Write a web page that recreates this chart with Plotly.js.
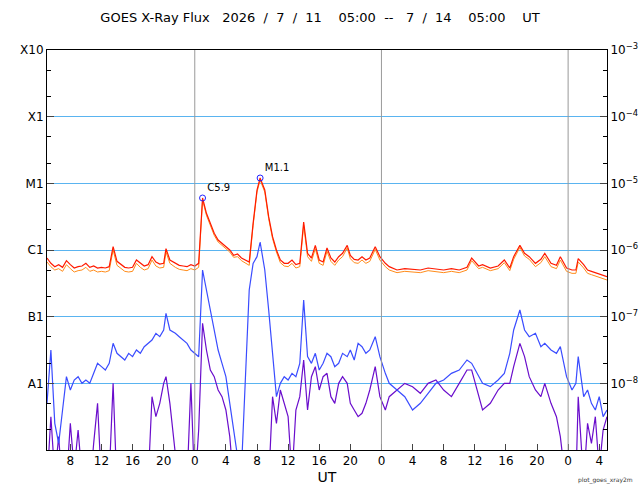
<!DOCTYPE html>
<html>
<head>
<meta charset="utf-8">
<script src="https://cdn.plot.ly/plotly-3.0.1.min.js"></script>
<style>body{margin:0;background:#fff}#chart{width:640px;height:500px}</style>
</head>
<body>
<div id="chart"></div>
<script>
// hours since 2026-07-11 05:00 UT, log10 flux (W/m2)
let hours = [0,0.5,1,1.5,2,2.5,3,3.5,4,4.5,5,5.5,6,6.5,7,7.5,8,8.5,9,9.5,10,10.5,11,11.5,12,12.5,13,13.5,14,14.5,15,15.3,15.8,16.5,17,17.5,18,18.5,19,19.5,20,20.5,21,21.5,22,22.5,23,23.5,24,24.5,25,25.5,26,26.5,27,27.4,28,28.5,29,29.5,30,30.5,31,31.5,32,32.5,33,33.5,34,34.5,35,35.5,36,36.5,37,37.5,38,38.6,39,39.5,40,40.5,41,41.5,42.2,42.8,43.5,44,45,46,47,48,49,50,51,52,53,54,54.6,55.5,56,57,58,58.8,59.5,60,60.8,61.4,62,62.8,63.5,64,64.8,65.5,66,66.8,67.5,68,68.3,69,69.5,70,70.5,71,71.5,72];
let xrsLong = [-6.12,-6.2,-6.25,-6.22,-6.26,-6.16,-6.22,-6.27,-6.25,-6.24,-6.2,-6.26,-6.24,-6.27,-6.26,-6.27,-6.25,-5.95,-6.17,-6.22,-6.26,-6.27,-6.26,-6.15,-6.2,-6.24,-6.22,-6.1,-6.18,-6.21,-6.2,-5.98,-6.15,-6.2,-6.23,-6.24,-6.25,-6.22,-6.24,-6.2,-5.22,-5.45,-5.6,-5.75,-5.85,-5.9,-5.96,-6.0,-6.08,-6.06,-6.12,-6.15,-6.18,-5.6,-5.1,-4.92,-5.1,-5.5,-5.8,-6.0,-6.15,-6.2,-6.2,-6.15,-6.22,-6.2,-5.58,-6.05,-6.12,-5.93,-6.15,-6.18,-5.97,-6.12,-6.18,-6.1,-6.05,-5.93,-6.08,-6.14,-6.15,-6.1,-6.15,-6.12,-5.95,-6.1,-6.2,-6.25,-6.3,-6.28,-6.29,-6.3,-6.27,-6.29,-6.3,-6.28,-6.3,-6.26,-6.12,-6.24,-6.22,-6.27,-6.24,-6.15,-6.27,-6.1,-5.93,-6.05,-6.1,-6.2,-6.14,-6.05,-6.2,-6.23,-6.1,-6.27,-6.3,-6.3,-6.13,-6.22,-6.3,-6.32,-6.34,-6.36,-6.38,-6.4];
let xrsLongB = [-6.18,-6.25,-6.3,-6.28,-6.32,-6.22,-6.28,-6.33,-6.31,-6.3,-6.26,-6.32,-6.3,-6.33,-6.32,-6.33,-6.31,-6.0,-6.23,-6.28,-6.32,-6.33,-6.32,-6.2,-6.26,-6.3,-6.28,-6.15,-6.24,-6.27,-6.26,-6.03,-6.2,-6.26,-6.29,-6.3,-6.31,-6.28,-6.3,-6.26,-5.25,-5.48,-5.63,-5.78,-5.88,-5.93,-5.99,-6.03,-6.11,-6.1,-6.16,-6.19,-6.23,-5.63,-5.13,-4.95,-5.13,-5.53,-5.83,-6.03,-6.19,-6.24,-6.25,-6.2,-6.27,-6.25,-5.63,-6.1,-6.17,-5.98,-6.2,-6.23,-6.02,-6.17,-6.23,-6.15,-6.1,-5.97,-6.13,-6.19,-6.2,-6.15,-6.2,-6.17,-5.99,-6.15,-6.25,-6.3,-6.34,-6.32,-6.33,-6.34,-6.31,-6.33,-6.34,-6.32,-6.34,-6.3,-6.16,-6.28,-6.26,-6.31,-6.28,-6.19,-6.31,-6.14,-5.96,-6.09,-6.14,-6.25,-6.19,-6.1,-6.25,-6.28,-6.15,-6.32,-6.35,-6.35,-6.18,-6.27,-6.35,-6.37,-6.39,-6.41,-6.43,-6.45];
let xrsShort = [-8.3,-7.5,-8.6,-8.9,-8.4,-7.9,-8.1,-7.95,-7.9,-8.0,-7.95,-8.0,-7.85,-7.7,-7.75,-7.8,-7.7,-7.4,-7.55,-7.6,-7.65,-7.55,-7.6,-7.5,-7.55,-7.45,-7.4,-7.35,-7.25,-7.3,-7.2,-6.95,-7.2,-7.25,-7.3,-7.35,-7.4,-7.5,-7.55,-7.6,-6.3,-6.6,-6.9,-7.2,-7.5,-7.7,-7.9,-8.3,-8.7,-9.1,-9.3,-8.0,-6.6,-6.2,-6.1,-5.88,-6.3,-6.9,-7.6,-8.2,-8.0,-7.9,-7.95,-7.85,-7.9,-7.7,-6.75,-7.6,-7.7,-7.55,-7.8,-7.7,-7.55,-7.6,-7.75,-7.7,-7.55,-7.6,-7.5,-7.65,-7.4,-7.45,-7.55,-7.5,-7.3,-7.6,-7.85,-8.0,-8.1,-8.2,-8.4,-8.3,-8.15,-8.0,-7.95,-7.85,-7.8,-7.65,-7.7,-7.9,-8.0,-8.05,-7.95,-7.85,-7.55,-7.2,-6.9,-7.2,-7.3,-7.25,-7.45,-7.4,-7.5,-7.55,-7.45,-7.9,-8.1,-8.0,-7.6,-8.2,-8.1,-8.3,-8.4,-8.2,-8.5,-8.4];
let xrsShortB = [-9.5,-8.5,-9.4,-8.8,-9.6,-9.5,-8.6,-9.3,-8.7,-9.4,-9.5,-9.6,-8.9,-8.3,-9.5,-9.6,-9.4,-8.0,-9.6,-9.5,-9.6,-9.2,-9.6,-9.4,-9.5,-9.6,-9.5,-8.2,-8.5,-8.3,-8.0,-7.9,-8.3,-9.0,-9.6,-9.4,-9.5,-8.0,-9.6,-8.7,-7.1,-7.5,-7.8,-7.9,-8.1,-8.2,-8.4,-8.8,-9.5,-9.6,-9.7,-9.6,-9.5,-9.4,-9.6,-9.5,-9.6,-9.5,-8.2,-8.6,-8.1,-8.3,-8.5,-9.4,-8.4,-8.2,-7.65,-8.4,-7.9,-7.75,-8.1,-7.9,-7.85,-8.2,-8.3,-8.0,-7.9,-8.0,-8.3,-8.4,-8.5,-8.45,-8.3,-8.1,-7.75,-8.2,-8.4,-8.2,-8.1,-8.0,-8.05,-8.15,-8.0,-7.95,-8.1,-8.2,-8.0,-7.8,-7.8,-8.2,-8.4,-8.3,-8.1,-8.0,-8.0,-7.75,-7.4,-7.6,-7.9,-8.1,-8.2,-8.0,-8.3,-8.5,-8.8,-9.6,-9.3,-9.5,-8.2,-9.5,-8.6,-8.9,-8.5,-9.3,-8.7,-8.5];
let peakHours = [20, 27.4];
let peakLog = [-5.22, -4.92];
let peakLabels = ['C5.9', 'M1.1'];
let tickHours = [3,7,11,15,19,23,27,31,35,39,43,47,51,55,59,63,67,71];
let tickLabels = ['8','12','16','20','0','4','8','12','16','20','0','4','8','12','16','20','0','4'];
let dayBreaks = [19, 43, 67];
let classVals = [1e-8,1e-7,1e-6,1e-5,1e-4,1e-3];
let classLabels = ['A1','B1','C1','M1','X1','X10'];
let expLabels = ['10<sup>−8</sup>','10<sup>−7</sup>','10<sup>−6</sup>','10<sup>−5</sup>','10<sup>−4</sup>','10<sup>−3</sup>'];

const pw = a => a.map(v => Math.pow(10, v));
function line(y, color, w) {
  return {x: hours, y: pw(y), mode: 'lines', line: {color: color, width: w}, hoverinfo: 'skip'};
}
let data = [
  line(xrsShortB, '#6a0dcc', 1.2),
  line(xrsShort, '#3a4cff', 1.2),
  line(xrsLongB, '#ff8c1a', 1),
  line(xrsLong, '#ff1a00', 1.2),
  {x: peakHours, y: pw(peakLog), mode: 'markers+text', text: peakLabels, textposition: 'top right',
   textfont: {size: 10, color: '#000'},
   marker: {symbol: 'circle-open', size: 6, color: '#2222ff', line: {width: 1}}},
  {x: [0], y: [1e-6], yaxis: 'y2', mode: 'markers', marker: {opacity: 0}, hoverinfo: 'skip'}
];
let shapes = dayBreaks.map(h => ({type: 'line', xref: 'x', yref: 'paper', x0: h, x1: h, y0: 0, y1: 1,
  line: {color: '#999', width: 1}}));
let yBase = {type: 'log', range: [-9, -3], showline: true, linecolor: '#000', ticks: 'inside', ticklen: 7,
  tickfont: {size: 12, family: 'DejaVu Sans', color: '#000'}, zeroline: false,
  minor: {ticks: 'inside', ticklen: 4, tickcolor: '#000', showgrid: false}};
let layout = {
  width: 640, height: 500, showlegend: false,
  margin: {l: 47, r: 33, t: 50, b: 50},
  paper_bgcolor: '#fff', plot_bgcolor: '#fff',
  font: {family: 'DejaVu Sans', color: '#000'},
  title: {text: 'GOES X-Ray Flux   2026  /  7  /  11    05:00  --   7  /  14    05:00    UT',
          font: {size: 13}, x: 0.5, xanchor: 'center', y: 0.975},
  xaxis: {range: [0, 72], tickvals: tickHours, ticktext: tickLabels, ticks: 'inside', ticklen: 6,
          showgrid: false, showline: true, mirror: true, linecolor: '#000', zeroline: false,
          tickfont: {size: 12}, title: {text: 'UT', font: {size: 14}, standoff: 4}},
  yaxis: Object.assign({}, yBase, {tickvals: classVals, ticktext: classLabels, showgrid: true,
          gridcolor: '#5ab4f0', gridwidth: 1}),
  yaxis2: Object.assign({}, yBase, {overlaying: 'y', side: 'right', tickvals: classVals,
          ticktext: expLabels, showgrid: false}),
  shapes: shapes,
  annotations: [{text: 'plot_goes_xray2m', xref: 'paper', yref: 'paper', x: 1.05, y: -0.09,
                 xanchor: 'right', showarrow: false, font: {size: 6, color: '#333'}}]
};
Plotly.newPlot('chart', data, layout, {displayModeBar: false, staticPlot: true});
</script>
</body>
</html>
